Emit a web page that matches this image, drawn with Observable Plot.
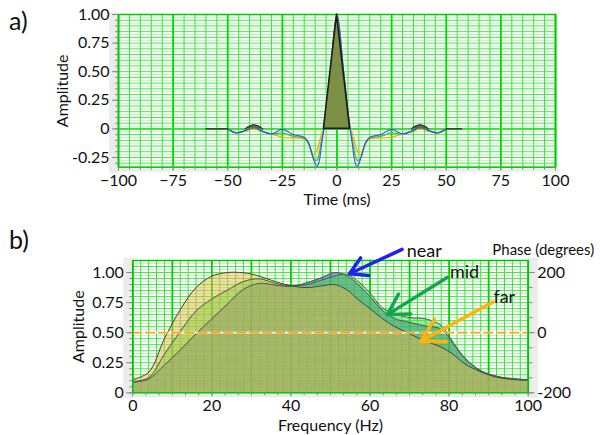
<!DOCTYPE html>
<html><head><meta charset="utf-8">
<script src="https://cdn.jsdelivr.net/npm/d3@7"></script>
<script src="https://cdn.jsdelivr.net/npm/@observablehq/plot@0.6"></script>
<style>
body{margin:0;background:#fff;font-family:Lato,"Open Sans",sans-serif;}
#wrap{position:relative;width:600px;height:435px;overflow:hidden;background:#fff}
.lbl{position:absolute;font-size:25px;line-height:25px;color:#111}
#a{position:absolute;left:0;top:0}
#b{position:absolute;left:0;top:228px}
</style></head><body>
<div id="wrap">
<div id="a"></div><div id="b"></div>
<div class="lbl" style="left:9px;top:8px">a)</div>
<div class="lbl" style="left:9px;top:227px">b)</div>
</div>
<script>
// ---------- panel a) data: wavelets in time ----------
const timeMs = [-50,-46,-42,-38,-34,-30,-25,-20,-15,-13,-12,-11,-10,-9,-8,-7,-6,-3,0,3,6,7,8,9,10,11,12,13,15,20,25,30,34,38,42,46,50];
const nearWave = [0,-0.035,-0.015,0.015,-0.02,-0.044,-0.004,-0.05,-0.073,-0.12,-0.18,-0.25,-0.305,-0.325,-0.27,-0.13,0,0.5,1,0.5,0,-0.13,-0.27,-0.325,-0.305,-0.25,-0.18,-0.12,-0.073,-0.05,-0.004,-0.044,-0.02,0.015,-0.015,-0.035,0];
const midWave  = [0,-0.035,-0.015,0.01,-0.025,-0.045,-0.035,-0.065,-0.08,-0.13,-0.19,-0.245,-0.275,-0.27,-0.2,-0.09,0,0.5,1,0.5,0,-0.09,-0.2,-0.27,-0.275,-0.245,-0.19,-0.13,-0.08,-0.065,-0.035,-0.045,-0.025,0.01,-0.015,-0.035,0];
const farWave  = [0,-0.035,-0.02,0,-0.025,-0.045,-0.072,-0.08,-0.087,-0.13,-0.18,-0.225,-0.215,-0.18,-0.11,-0.04,0,0.5,1,0.5,0,-0.04,-0.11,-0.18,-0.215,-0.225,-0.18,-0.13,-0.087,-0.08,-0.072,-0.045,-0.025,0,-0.02,-0.035,0];
const peakT = [-6,0,6], peakV = [0,1,0];
const bumpT = [-42,-40,-38,-36,-34, 34,36,38,40,42];
const bumpV = [0,0.024,0.035,0.024,0, 0,0.024,0.035,0.024,0];
const bumpSide = ["L","L","L","L","L","R","R","R","R","R"];
const flatT = [-60,-50,50,57], flatV = [0,0,0,0], flatSide = ["L","L","R","R"];
const timeTicks = [-100,-75,-50,-25,0,25,50,75,100];
const ampTicksA = [-0.25,0,0.25,0.5,0.75,1];

// ---------- panel b) data: amplitude spectra ----------
const freqHz = [0,4,8,12,16,20,24,28,32,36,40,44,48,51,54,57,60,63,66,70,74,78,81,84,88,92,96,100];
const farSpec  = [0.11,0.17,0.45,0.69,0.875,0.97,1.0,0.998,0.97,0.925,0.89,0.875,0.89,0.9,0.86,0.775,0.70,0.62,0.555,0.49,0.43,0.38,0.32,0.24,0.175,0.13,0.112,0.103];
const midSpec  = [0.095,0.125,0.32,0.51,0.68,0.78,0.855,0.925,0.948,0.91,0.89,0.90,0.94,0.97,0.985,0.925,0.83,0.71,0.66,0.625,0.615,0.56,0.42,0.29,0.185,0.138,0.118,0.108];
const nearSpec = [0.085,0.115,0.23,0.355,0.49,0.615,0.74,0.86,0.91,0.895,0.885,0.915,0.96,1.0,0.975,0.90,0.80,0.69,0.62,0.585,0.555,0.53,0.41,0.285,0.18,0.135,0.116,0.106];
const freqTicks = [0,20,40,60,80,100];
const ampTicksB = [0,0.25,0.5,0.75,1];
const phaseTicks = [-200,0,200];
const phaseMinor = [-200,-150,-100,-50,0,50,100,150,200];
const refAmp = [0.5];
// annotations
const annName = ["near","mid","far"];
const annColor = ["#1f22f2","#12a64e","#ffb20a"];
const annF1 = [68.1,79.5,91.1], annA1 = [1.192,0.958,0.755];
const annF2 = [54.8,64.4,72.9], annA2 = [0.99,0.65,0.43];
const annTF = [69.3,80.2,91.2], annTA = [1.18,1.0,0.795];

const FONT = "Lato, 'Open Sans', sans-serif";
const fmtAmp = d => d === 0 ? "0" : d.toFixed(2);

function strips(rightW) {
  return (index, scales, values, dims) => {
    const {width, height, marginLeft, marginRight, marginTop, marginBottom} = dims;
    const x0 = marginLeft, x1 = width - marginRight, y0 = marginTop, y1 = height - marginBottom;
    const g = d3.create("svg:g").attr("fill", "#ececec");
    g.append("rect").attr("x", x0 - 9).attr("y", y0 - 2).attr("width", 9).attr("height", y1 - y0 + 8);
    g.append("rect").attr("x", x0 - 9).attr("y", y1).attr("width", x1 - x0 + 9 + rightW).attr("height", 5);
    g.append("rect").attr("x", x1).attr("y", y0 - 2).attr("width", rightW).attr("height", y1 - y0 + 8);
    return g.node();
  };
}

// ---------- panel a ----------
const wave = timeMs.map((t, i) => ({t, near: nearWave[i], mid: midWave[i], far: farWave[i]}));
const peak = peakT.map((t, i) => ({t, v: peakV[i]}));
const bumps = bumpT.map((t, i) => ({t, v: bumpV[i], s: bumpSide[i]}));
const flats = flatT.map((t, i) => ({t, v: flatV[i], s: flatSide[i]}));
const tGrid = d3.range(-20, 21).map(i => i * 5);
const aGrid = d3.range(-13, 41).map(i => i * 0.025);

const plotA = Plot.plot({
  width: 600, height: 210,
  marginLeft: 118, marginRight: 45, marginTop: 14, marginBottom: 43.3,
  x: {domain: [-100, 100], label: null},
  y: {domain: [-0.335, 1], label: null},
  style: {fontFamily: FONT, fontSize: "16px", color: "#111", background: "transparent", overflow: "visible"},
  marks: [
    strips(3),
    Plot.ruleY(aGrid.filter((d, i) => i % 2 === 0), {stroke: "#b6f7b6", strokeWidth: 1}),
    Plot.ruleY(aGrid.filter((d, i) => i % 2 === 1), {stroke: "#4ce64c", strokeWidth: 1}),
    Plot.ruleX(tGrid.filter(d => d % 25 !== 0), {stroke: "#3fdd3f", strokeWidth: 1}),
    Plot.ruleX(tGrid.filter(d => d % 25 === 0), {stroke: "#00d800", strokeWidth: 1.8}),
    Plot.ruleY([0], {stroke: "#22dd22", strokeWidth: 1.5}),
    Plot.frame({stroke: "#00c800", strokeWidth: 1.5}),
    Plot.line(wave, {x: "t", y: "far", stroke: "#ffa726", strokeWidth: 1.4, curve: "catmull-rom"}),
    Plot.line(wave, {x: "t", y: "mid", stroke: "#3cc83c", strokeWidth: 1.4, curve: "catmull-rom"}),
    Plot.line(wave, {x: "t", y: "near", stroke: "#3c3cff", strokeWidth: 1.2, curve: "catmull-rom", strokeOpacity: 0.85}),
    Plot.areaY(bumps, {x: "t", y: "v", z: "s", fill: "#5d6a5d", curve: "catmull-rom"}),
    Plot.line(bumps, {x: "t", y: "v", z: "s", stroke: "#333", strokeWidth: 1.2, curve: "catmull-rom"}),
    Plot.line(flats, {x: "t", y: "v", z: "s", stroke: "#222", strokeWidth: 1.3}),
    Plot.areaY(peak, {x: "t", y: "v", fill: "#7b8f45", stroke: "#1a1a1a", strokeWidth: 1.6}),
    Plot.axisY(d3.range(-6, 21).map(i => i * 0.05), {tickSize: 3, tickFormat: () => "", stroke: "#888", label: null}),
    Plot.axisY(ampTicksA, {tickSize: 6, tickPadding: 3, tickFormat: fmtAmp, stroke: "#888", label: "Amplitude", labelAnchor: "center", labelOffset: 62, labelArrow: "none"}),
    Plot.axisX(tGrid, {tickSize: 3, tickFormat: () => "", stroke: "#888", label: null}),
    Plot.axisX(timeTicks, {tickSize: 4, tickPadding: 3, stroke: "#888", label: "Time (ms)", labelAnchor: "center", labelOffset: 38, labelArrow: "none"})
  ]
});
document.getElementById("a").appendChild(plotA);

// ---------- panel b ----------
const spec = freqHz.map((f, i) => ({f, far: farSpec[i], mid: midSpec[i], near: nearSpec[i]}));
const ann = annName.map((n, i) => ({n, c: annColor[i], f1: annF1[i], a1: annA1[i], f2: annF2[i], a2: annA2[i], tf: annTF[i], ta: annTA[i]}));
const fGrid = d3.range(0, 51).map(i => i * 2);
const bGrid = d3.range(1, 45).map(i => i * 0.025);
const phaseToAmp = p => (p + 200) / 400;

const plotB = Plot.plot({
  width: 600, height: 207,
  marginLeft: 132.3, marginRight: 72.3, marginTop: 32, marginBottom: 42.7,
  x: {domain: [0, 100], label: null},
  y: {domain: [0, 1.1], label: null},
  style: {fontFamily: FONT, fontSize: "16px", color: "#111", background: "transparent", overflow: "visible"},
  marks: [
    strips(10),
    Plot.ruleY(bGrid.filter((d, i) => i % 2 === 0), {stroke: "#b6f7b6", strokeWidth: 1}),
    Plot.ruleY(bGrid.filter((d, i) => i % 2 === 1), {stroke: "#4ce64c", strokeWidth: 1}),
    Plot.ruleX(fGrid.filter(d => d % 10 !== 0), {stroke: "#3fdd3f", strokeWidth: 1}),
    Plot.ruleX(fGrid.filter(d => d % 10 === 0), {stroke: "#00d000", strokeWidth: 1.8}),
    Plot.areaY(spec, {x: "f", y: "near", fill: "#5660c0", fillOpacity: 0.62, curve: "catmull-rom"}),
    Plot.areaY(spec, {x: "f", y: "mid", fill: "#3ee03e", fillOpacity: 0.5, curve: "catmull-rom"}),
    Plot.areaY(spec, {x: "f", y: "far", fill: "#f5b04a", fillOpacity: 0.46, curve: "catmull-rom"}),
    Plot.line(spec, {x: "f", y: "near", stroke: "#555", strokeWidth: 1, curve: "catmull-rom"}),
    Plot.line(spec, {x: "f", y: "mid", stroke: "#555", strokeWidth: 1, curve: "catmull-rom"}),
    Plot.line(spec, {x: "f", y: "far", stroke: "#444", strokeWidth: 1, curve: "catmull-rom"}),
    Plot.ruleY(refAmp, {stroke: "white", strokeWidth: 1.6}),
    Plot.ruleY(refAmp, {stroke: "#ffa21c", strokeWidth: 1.6, strokeDasharray: "10,3"}),
    Plot.frame({stroke: "#00c800", strokeWidth: 1.5}),
    Plot.axisY(d3.range(0, 21).map(i => i * 0.05), {tickSize: 3, tickFormat: () => "", stroke: "#888", label: null}),
    Plot.axisY(ampTicksB, {tickSize: 6, tickPadding: 3, tickFormat: fmtAmp, stroke: "#888", label: "Amplitude", labelAnchor: "center", labelOffset: 60, labelArrow: "none"}),
    Plot.axisY(phaseMinor.map(phaseToAmp), {anchor: "right", tickSize: 4, tickFormat: () => "", stroke: "#888", label: null}),
    Plot.axisY(phaseTicks.map(phaseToAmp), {anchor: "right", tickSize: 6, tickPadding: 3, stroke: "#888", tickFormat: d => String(Math.round(d * 400 - 200)), label: null}),
    Plot.axisX(d3.range(0, 31).map(i => i * 20 / 6), {tickSize: 3, tickFormat: () => "", stroke: "#888", label: null}),
    Plot.axisX(freqTicks, {tickSize: 4, tickPadding: 3, stroke: "#888", label: "Frequency (Hz)", labelAnchor: "center", labelOffset: 38, labelArrow: "none"}),
    Plot.text(["Phase (degrees)"], {frameAnchor: "top-right", dx: 66, dy: -10, textAnchor: "end", lineAnchor: "middle", fontSize: 15, fill: "#111"}),
    Plot.arrow(ann, {x1: "f1", y1: "a1", x2: "f2", y2: "a2", stroke: "c", strokeWidth: 3.5, headLength: 11}),
    Plot.text(ann, {x: "tf", y: "ta", text: "n", textAnchor: "start", lineAnchor: "middle", fontSize: 18, fill: "#111"})
  ]
});
document.getElementById("b").appendChild(plotB);
</script>
</body></html>
